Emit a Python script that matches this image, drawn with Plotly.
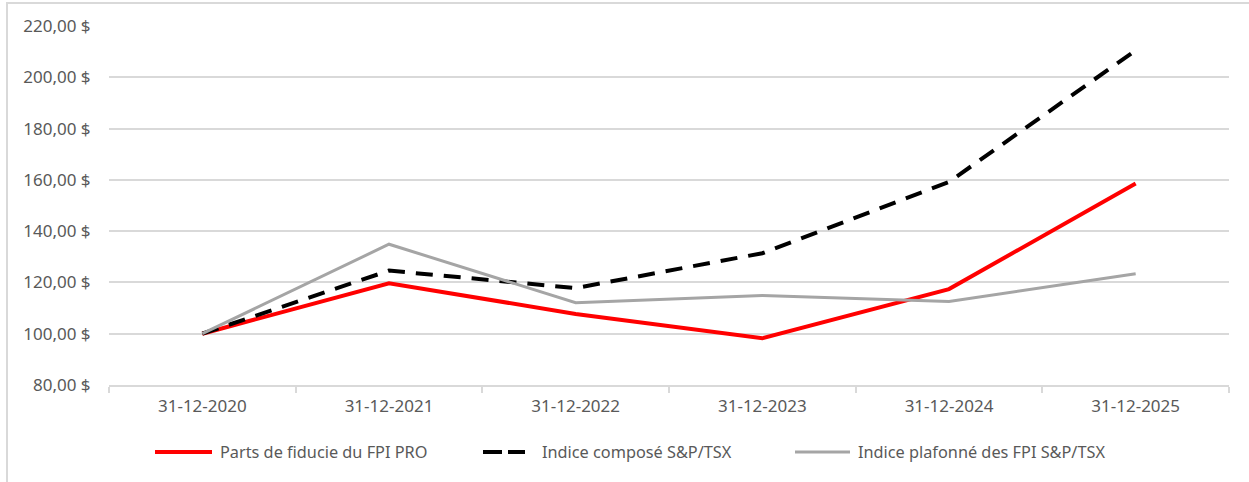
import plotly.graph_objects as go

dates = ["31-12-2020", "31-12-2021", "31-12-2022", "31-12-2023", "31-12-2024", "31-12-2025"]
fpi_pro = [100.0, 119.7, 107.7, 98.2, 117.4, 158.6]
sptsx_composite = [100.0, 124.6, 117.8, 131.4, 159.2, 210.5]
sptsx_reit = [100.0, 134.9, 112.1, 114.9, 112.6, 123.4]
series_names = ["Parts de fiducie du FPI PRO", "Indice composé S&P/TSX", "Indice plafonné des FPI S&P/TSX"]
y_ticks = [80, 100, 120, 140, 160, 180, 200, 220]
y_tick_labels = ["80,00 $", "100,00 $", "120,00 $", "140,00 $", "160,00 $", "180,00 $", "200,00 $", "220,00 $"]

FONT = "Noto Sans"
TXT = "#595959"
GRID = "#d9d9d9"
colors = ["#ff0000", "#000000", "#a5a5a5"]
widths = [4, 4, 3]
dashes = ["solid", "17px,11px", "solid"]
legend_dashes = ["solid", "19px,6px", "solid"]

fig = go.Figure()
for ys, nm, c, w, d in zip([fpi_pro, sptsx_composite, sptsx_reit], series_names, colors, widths, dashes):
    fig.add_trace(go.Scatter(x=dates, y=ys, name=nm, mode="lines",
                             line=dict(color=c, width=w, dash=d), showlegend=False))

L, R, T, B = 109, 20, 26, 97
W, H = 1249, 482
pw, ph = W - L - R, H - T - B

def px_x(x):
    return (x - L) / pw

def px_y(y):
    return (T + ph - y) / ph

shapes = [dict(type="rect", xref="paper", yref="paper",
               x0=px_x(7), x1=1.5, y0=-1.0, y1=px_y(3),
               line=dict(color=GRID, width=2), fillcolor="rgba(0,0,0,0)", layer="below")]
annotations = []
legend_line_x = [(155, 212), (483, 525), (795, 850)]
legend_text_x = [218, 540, 856]
LEG_Y = 452
for (x0, x1), tx, nm, c, w, d in zip(legend_line_x, legend_text_x, series_names, colors, widths, legend_dashes):
    shapes.append(dict(type="line", xref="paper", yref="paper",
                       x0=px_x(x0), x1=px_x(x1), y0=px_y(LEG_Y), y1=px_y(LEG_Y),
                       line=dict(color=c, width=w, dash=d)))
    annotations.append(dict(xref="paper", yref="paper", x=px_x(tx), y=px_y(LEG_Y),
                            xanchor="left", yanchor="middle", text=nm, showarrow=False,
                            font=dict(family=FONT, size=16.3, color=TXT)))

fig.update_layout(
    width=W, height=H,
    margin=dict(l=L, r=R, t=T, b=B),
    paper_bgcolor="white", plot_bgcolor="white",
    font=dict(family=FONT, color=TXT, size=16),
    showlegend=False,
    xaxis=dict(type="category", range=[-0.5, 5.5], showgrid=False, showline=True,
               linecolor=GRID, linewidth=2,
               ticks="outside", tickson="boundaries", ticklen=6, tickcolor=GRID, tickwidth=2,
               ticklabelstandoff=5,
               tickfont=dict(family=FONT, size=17, color=TXT), fixedrange=True),
    yaxis=dict(range=[80, 220], tickvals=y_ticks, ticktext=y_tick_labels,
               showgrid=True, gridcolor=GRID, gridwidth=1.5, zeroline=False, showline=False,
               ticks="outside", ticklen=14, tickcolor="rgba(0,0,0,0)",
               tickfont=dict(family=FONT, size=17, color=TXT), fixedrange=True),
    shapes=shapes,
    annotations=annotations,
)

fig.write_html("out.html", config={"displayModeBar": False},
               post_script="document.body.style.margin='0';document.body.style.overflow='hidden';")
